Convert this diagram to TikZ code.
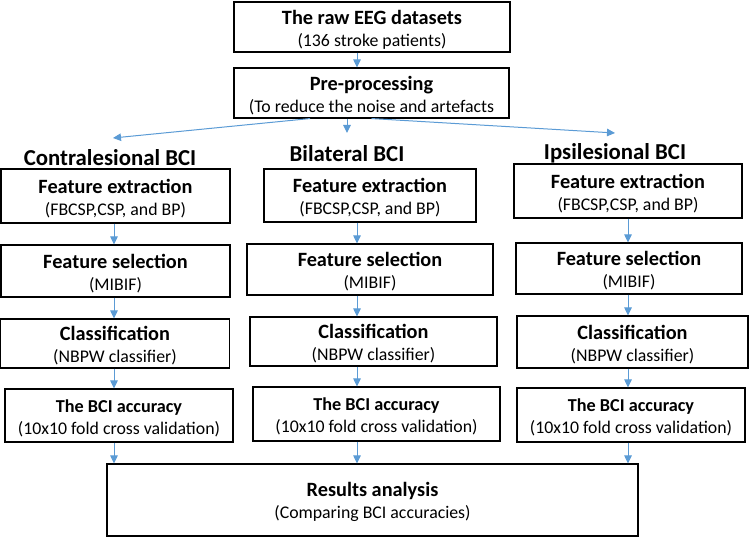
\documentclass[tikz,border=0pt]{standalone}
\usepackage{fontspec}
\setmainfont{Carlito}
\usetikzlibrary{arrows.meta}

\definecolor{flowblue}{HTML}{5B9BD5}

\tikzset{
  box/.style={draw=black, line width=1.1pt, align=center, inner sep=0pt,
    font=\fontsize{17.8}{22}\selectfont},
  flow/.style={draw=flowblue, line width=1pt, -{Triangle[length=8pt,width=7.5pt]}},
  head/.style={font=\fontsize{22.8}{26}\selectfont\bfseries, inner sep=0pt}
}

\newcommand{\ttl}[1]{{\fontsize{20.3}{22}\selectfont\bfseries\rule{0pt}{19pt}#1}}
\newcommand{\sml}[1]{{\fontsize{18.2}{22}\selectfont\bfseries\rule{0pt}{18pt}#1}}

\begin{document}
\begin{tikzpicture}[x=1pt, y=-1pt]
  \useasboundingbox (0,0) rectangle (749,537);

  % top of the pipeline
  \node[box, minimum width=276, minimum height=50] (raw) at (372,27)
    {\ttl{The raw EEG datasets}\\(136 stroke patients)};
  \node[box, minimum width=275, minimum height=50] (pre) at (371.5,93)
    {\ttl{Pre-processing}\\(To reduce the noise and artefacts};

  % column titles
  \node[head] (hdA) at (110,158) {Contralesional BCI};
  \node[head] (hdB) at (347,154) {Bilateral BCI};
  \node[head] (hdC) at (615,153) {Ipsilesional BCI};

  % x positions of the vertical arrows
  \coordinate (colA) at (114,0);
  \coordinate (colB) at (357,0);
  \coordinate (colC) at (628,0);

  % arrow tips above the column titles
  \coordinate (tipA) at (113,138);
  \coordinate (tipB) at (347,133);
  \coordinate (tipC) at (615,133);

  % contralesional column
  \node[box, minimum width=229, minimum height=54] (feA) at (115.5,196)
    {\ttl{Feature extraction}\\(FBCSP,CSP, and BP)};
  \node[box, minimum width=229, minimum height=52] (fsA) at (115.5,271)
    {\ttl{Feature selection}\\(MIBIF)};
  \node[box, minimum width=229, minimum height=49] (clA) at (115,343.5)
    {\ttl{Classification}\\(NBPW classifier)};
  \node[box, minimum width=228, minimum height=53] (acA) at (119,415.5)
    {\sml{The BCI accuracy}\\(10x10 fold cross validation)};

  % bilateral column
  \node[box, minimum width=212, minimum height=53] (feB) at (370,195.5)
    {\ttl{Feature extraction}\\(FBCSP,CSP, and BP)};
  \node[box, minimum width=246, minimum height=51] (fsB) at (370,269.5)
    {\ttl{Feature selection}\\(MIBIF)};
  \node[box, minimum width=247, minimum height=49] (clB) at (373.5,341.5)
    {\ttl{Classification}\\(NBPW classifier)};
  \node[box, minimum width=247, minimum height=54] (acB) at (376.5,414)
    {\sml{The BCI accuracy}\\(10x10 fold cross validation)};

  % ipsilesional column
  \node[box, minimum width=228, minimum height=54] (feC) at (628,191)
    {\ttl{Feature extraction}\\(FBCSP,CSP, and BP)};
  \node[box, minimum width=226, minimum height=51] (fsC) at (629,268.5)
    {\ttl{Feature selection}\\(MIBIF)};
  \node[box, minimum width=231, minimum height=52] (clC) at (632.5,342)
    {\ttl{Classification}\\(NBPW classifier)};
  \node[box, minimum width=228, minimum height=54] (acC) at (631,415)
    {\sml{The BCI accuracy}\\(10x10 fold cross validation)};

  % results
  \node[box, minimum width=531, minimum height=72] (res) at (372.5,500)
    {\ttl{Results analysis}\\(Comparing BCI accuracies)};

  % connectors
  \draw[flow] (raw.south -| colB) -- (pre.north -| colB);
  \draw[flow] ([xshift=-61.5]pre.south) -- (tipA);
  \draw[flow] ([xshift=-24.5]pre.south) -- (tipB);
  \draw[flow] (pre.south) -- (tipC);

  \draw[flow] (feA.south -| colA) -- (fsA.north -| colA);
  \draw[flow] (fsA.south -| colA) -- (clA.north -| colA);
  \draw[flow] (clA.south -| colA) -- (acA.north -| colA);
  \draw[flow] (acA.south -| colA) -- (res.north -| colA);

  \draw[flow] (feB.south -| colB) -- (fsB.north -| colB);
  \draw[flow] (fsB.south -| colB) -- (clB.north -| colB);
  \draw[flow] (clB.south -| colB) -- (acB.north -| colB);
  \draw[flow] (acB.south -| colB) -- (res.north -| colB);

  \draw[flow] (feC.south -| colC) -- (fsC.north -| colC);
  \draw[flow] (fsC.south -| colC) -- (clC.north -| colC);
  \draw[flow] (clC.south -| colC) -- (acC.north -| colC);
  \draw[flow] (acC.south -| colC) -- (res.north -| colC);
\end{tikzpicture}
\end{document}
